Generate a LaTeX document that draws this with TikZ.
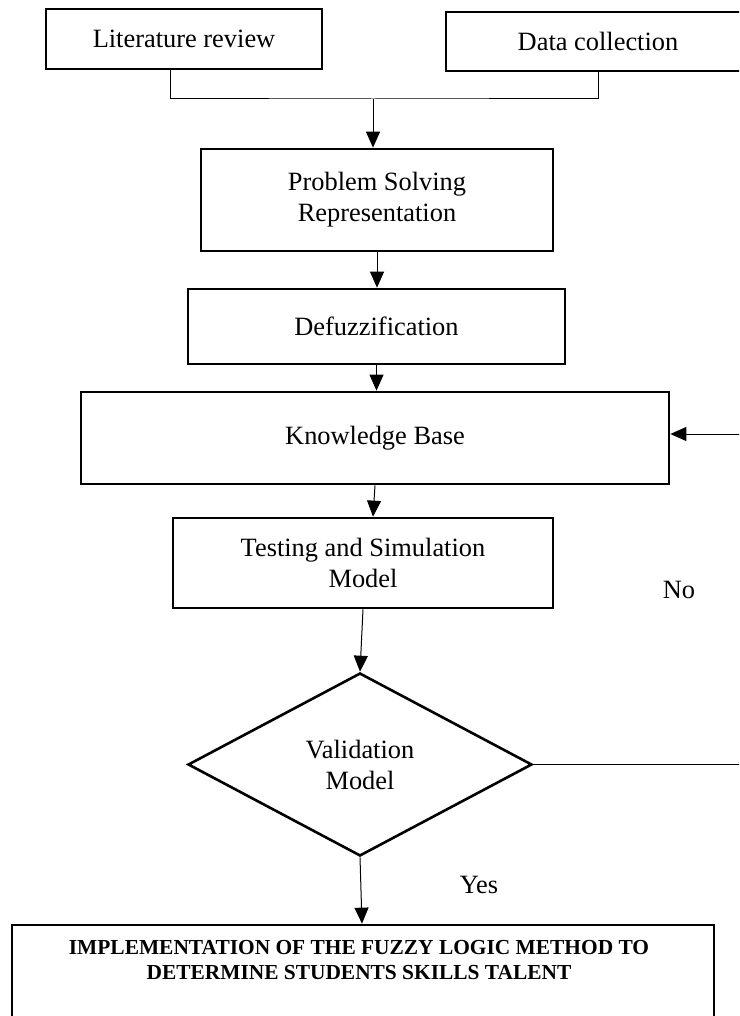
\documentclass[tikz,border=0pt]{standalone}
\usepackage{fontspec}
\setmainfont{Liberation Serif}
\usetikzlibrary{arrows.meta,shapes.geometric,calc}
\begin{document}
\begin{tikzpicture}[x={(1pt,0)},y={(0,-1pt)},
  box/.style={draw,line width=2.7pt,inner sep=0pt,align=center,
    font=\fontsize{26.4}{31}\selectfont},
  decision/.style={draw,line width=2.6pt,diamond,inner sep=0pt,aspect=1.88,
    minimum width=344pt,minimum height=183pt,align=center,
    font=\fontsize{26.4}{31}\selectfont},
  conn/.style={line width=1pt},
  arr/.style={line width=1pt,-{Triangle[length=16pt,width=14pt]}},
  lbl/.style={font=\fontsize{26.4}{31}\selectfont,inner sep=0pt},
  boldtxt/.style={font=\fontsize{21.4}{25}\selectfont\bfseries,align=center,inner sep=0pt}]
\useasboundingbox (0,0) rectangle (739,1016);
\clip (0,0) rectangle (739,1016);

\node[box,minimum width=276pt,minimum height=60pt] (lit) at (184,39) {Literature review};
\node[box,minimum width=304pt,minimum height=59pt] (data) at (598,41.5) {Data collection};
\node[box,minimum width=352pt,minimum height=102pt] (prob) at (377,200) {Problem Solving\\Representation};
\node[box,minimum width=377pt,minimum height=75pt] (defuzz) at (376.5,326.5) {Defuzzification};
\node[box,minimum width=588pt,minimum height=92pt] (kb) at (375,438) {Knowledge Base};
\node[box,minimum width=380pt,minimum height=90pt] (test) at (363,563) {Testing and Simulation\\Model};
\node[decision] (val) at (360,764.5) {Validation\\Model};
\node[box,minimum width=702pt,minimum height=125pt] (impl) at (363,987.5) {};
\node[boldtxt] (implt) at (359,960.5) {IMPLEMENTATION OF THE FUZZY LOGIC METHOD TO\\DETERMINE STUDENTS SKILLS TALENT};

\node[lbl] (no) at (679,590) {No};
\node[lbl] (yes) at (479,885) {Yes};

\coordinate (jn) at (373,99);
\coordinate (loop) at (750,764.5);

\draw[conn] ([xshift=-14pt]lit.south) |- (jn) -| (data.south);
\draw[arr] (jn) -- (jn |- prob.north);
\draw[arr] (prob.south) -- (prob.south |- defuzz.north);
\draw[arr] (defuzz.south) -- (defuzz.south |- kb.north);
\draw[arr] (kb.south) -- ([xshift=10pt]test.north);
\draw[arr] (test.south) -- (val.north);
\draw[arr] (val.south) -- ([xshift=-1pt]impl.north);
\draw[arr] (val.east) -- (loop) |- ([yshift=4pt]kb.east);
\end{tikzpicture}
\end{document}
